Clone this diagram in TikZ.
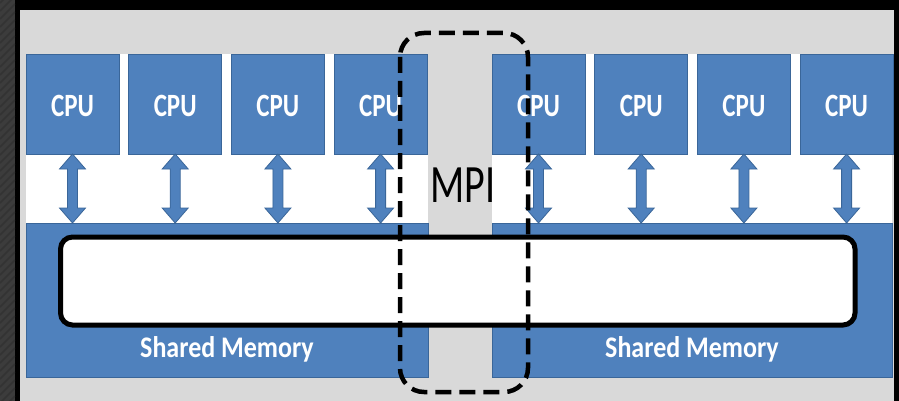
\documentclass[tikz,border=0pt]{standalone}
\usepackage{fontspec}
\setmainfont{Carlito}
\usetikzlibrary{calc}

\definecolor{bgray}{HTML}{D9D9D9}
\definecolor{cpublue}{HTML}{4F81BD}
\definecolor{cpuedge}{HTML}{3A6699}
\definecolor{hatchgray}{HTML}{3C3C3C}

\tikzset{
  cpubox/.style={fill=cpublue, draw=cpuedge, line width=0.8pt},
  membox/.style={fill=cpublue, draw=cpuedge, line width=0.8pt},
  cpulabel/.style={text=white, font=\bfseries\fontsize{25}{25}\selectfont, anchor=base, inner sep=0pt},
  memlabel/.style={text=white, font=\bfseries\fontsize{26}{26}\selectfont, anchor=base, inner sep=0pt},
  busarrow/.style={fill=cpublue, draw=cpuedge, line width=0.8pt, line join=miter},
  cachebar/.style={fill=white, draw=black, line width=5pt, rounded corners=12pt},
  mpiframe/.style={draw=black, line width=4.5pt, dash pattern=on 16pt off 8pt, rounded corners=24pt},
}

% double-headed block arrow centred at x = #1 between y = 154 and y = 223
\newcommand{\busarrow}[2]{%
  \draw[busarrow] (#1,154) -- (#1+13,169) -- (#1+5,169) -- (#1+5,208) -- (#1+13,208)
    -- (#1,223) -- (#1-13,208) -- (#1-5,208) -- (#1-5,169) -- (#1-13,169) -- cycle;
  \coordinate (#2) at (#1,188);
}

\begin{document}
\begin{tikzpicture}[x=1pt, y=-1pt]
\useasboundingbox (0,0) rectangle (899,401);

% frame and background
\fill[black] (0,0) rectangle (899,401);
\fill[hatchgray] (0,0) rectangle (15,401);
\begin{scope}
  \clip (0,0) rectangle (15,401);
  \foreach \k in {-20,-12,...,420}
    \draw[black!80, line width=1.5pt] (0,\k+15) -- (15,\k);
\end{scope}
\fill[bgray] (20,10) rectangle (894,401);

% white backdrop behind the two node groups
\fill[white] (26,54) rectangle (428,223);
\fill[white] (492,54) rectangle (892,223);

% shared memory blocks
\draw[membox] (26,223) rectangle (428,377);
\draw[membox] (492,223) rectangle (892,377);
\node[memlabel] (memL) at (227,357) {\scalebox{1}[1.15]{Shared Memory}};
\node[memlabel] (memR) at (692,357) {\scalebox{1}[1.15]{Shared Memory}};

% CPUs of the left node
\foreach \i in {0,1,2,3} {
  \pgfmathsetmacro{\xa}{26+102.7*\i}
  \draw[cpubox] (\xa,54) rectangle (\xa+93,154);
  \node[cpulabel] (cpuL\i) at (\xa+46.5,117) {\scalebox{1}[1.3]{CPU}};
  \busarrow{\xa+46.5}{busL\i}
}
% CPUs of the right node
\foreach \i in {0,1,2,3} {
  \pgfmathsetmacro{\xa}{492+102.7*\i}
  \draw[cpubox] (\xa,54) rectangle (\xa+93,154);
  \node[cpulabel] (cpuR\i) at (\xa+46.5,117) {\scalebox{1}[1.3]{CPU}};
  \busarrow{\xa+46.5}{busR\i}
}

% interconnect bar across both memories
\draw[cachebar] (60.5,237) rectangle (855,325);

% MPI link
\node[text=black, font=\fontsize{40}{40}\selectfont, anchor=base, inner sep=0pt] (mpi) at (463,202) {\scalebox{1}[1.35]{MPI}};
\draw[mpiframe] (400,33) rectangle (528,392);
\end{tikzpicture}
\end{document}
